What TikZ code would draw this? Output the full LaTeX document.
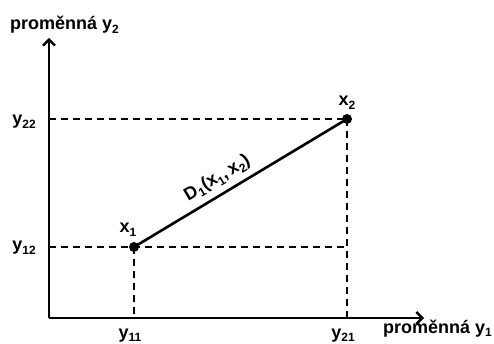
\documentclass[tikz,border=0pt]{standalone}
\usepackage{fontspec}
\setmainfont{Liberation Sans}
\usetikzlibrary{arrows.meta}
\newcommand{\mysub}[1]{\raisebox{-0.22em}{\fontsize{12}{12}\selectfont #1}}
\begin{document}
\begin{tikzpicture}[x=1pt,y=-1pt,
  lbl/.style={font=\fontsize{18}{20}\selectfont\bfseries, inner sep=0pt},
  axis/.style={line width=2.4pt, -{Straight Barb[length=6pt,width=12pt]}},
  dashline/.style={line width=1.8pt, dash pattern=on 7pt off 5pt},
  dot/.style={circle, fill=black, minimum size=10pt, inner sep=0pt},
  seg/.style={line width=2.6pt}]
\useasboundingbox (0,0) rectangle (494,344);
\coordinate (o) at (49,318);
\coordinate (ytip) at (49,38);
\coordinate (xtip) at (424,318);
\node[dot] (x1) at (134,247) {};
\node[dot] (x2) at (347,119) {};
\draw[dashline] (o |- x2) -- (x2.center);
\draw[dashline] (o |- x1) -- (x2 |- x1);
\draw[dashline] (x1.center) -- (x1 |- o);
\draw[dashline] (x2.center) -- (x2 |- o);
\draw[axis] (o) -- (ytip);
\draw[axis] (o) -- (xtip);
\draw[seg] (x1.center) -- node[lbl, pos=0.43, sloped, above=6pt] (dl) {D\mysub{1}(x\mysub{1},\,x\mysub{2})} (x2.center);
\node[lbl, anchor=base west] (ly2) at (10,30) {proměnná y\mysub{2}};
\node[lbl, anchor=base west] (ly1) at (383,333) {proměnná y\mysub{1}};
\node[lbl, anchor=base east] (l22) at (36,125) {y\mysub{22}};
\node[lbl, anchor=base east] (l12) at (36,251) {y\mysub{12}};
\node[lbl, anchor=base] (l11) at (130,338) {y\mysub{11}};
\node[lbl, anchor=base] (l21) at (343,338) {y\mysub{21}};
\node[lbl, anchor=base] (lx1) at (128,233) {x\mysub{1}};
\node[lbl, anchor=base] (lx2) at (347,106) {x\mysub{2}};
\end{tikzpicture}
\end{document}
